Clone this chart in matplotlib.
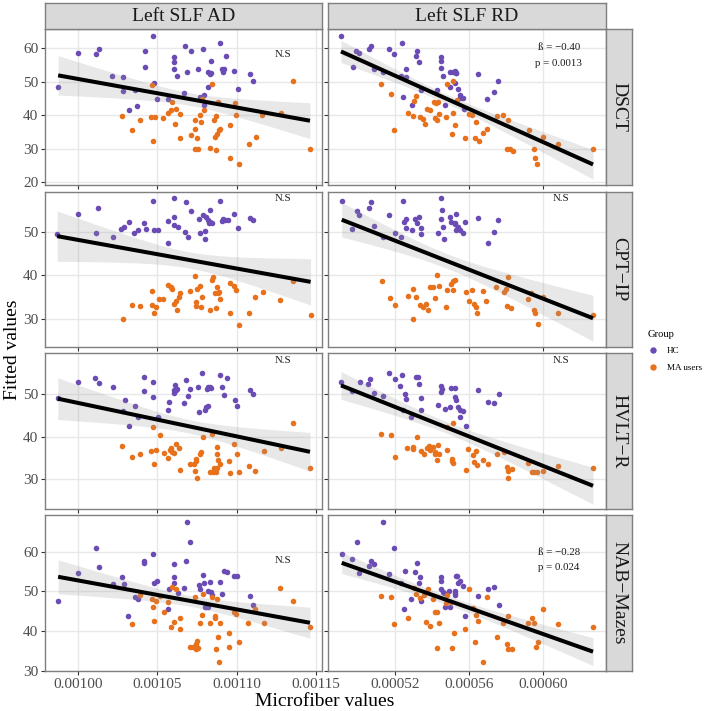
import numpy as np
import matplotlib
matplotlib.use('Agg')
import matplotlib.pyplot as plt
from matplotlib.ticker import FixedLocator, FormatStrFormatter
from matplotlib.lines import Line2D

plt.rcParams['font.family'] = ['Liberation Serif', 'DejaVu Serif']

# ---------------- data ----------------
COLUMNS = ['Left SLF AD', 'Left SLF RD']
ROWS = ['DSCT', 'CPT\u2212IP', 'HVLT\u2212R', 'NAB\u2212Mazes']
GROUPS = ['HC', 'MA users']
X_SCALE = 1e-5  # microfiber values below are given in units of 1e-5

# DSCT vs Left SLF AD
DSCT_AD_HC_X = [98.73, 100.0, 101.10, 101.31, 102.16, 102.85, 102.81, 103.57, 103.21, 103.74, 104.20, 104.20, 104.71, 104.80, 104.97, 105.66, 106.06, 106.06, 106.06, 106.23, 106.76, 106.89, 107.12, 106.68, 107.56, 107.86, 107.71, 107.97, 107.97, 108.18, 108.18, 108.30, 108.39, 108.39, 108.94, 109.11, 109.15, 109.19, 109.36, 109.87, 110.08, 110.84, 111.05]
DSCT_AD_HC_Y = [48.3, 58.5, 58.3, 59.8, 51.8, 51.3, 47.3, 47.5, 41.5, 42.8, 59.3, 54.5, 63.7, 49.5, 44.7, 44.7, 57.5, 55.8, 53.9, 51.6, 60.8, 52.9, 59.3, 46.7, 53.9, 59.8, 45.5, 46.0, 43.0, 48.5, 53.0, 52.3, 52.5, 56.3, 61.7, 53.7, 53.0, 53.9, 57.6, 53.3, 47.9, 52.3, 50.2]
DSCT_AD_MA_X = [102.79, 103.40, 103.91, 104.58, 104.69, 104.75, 104.88, 105.35, 105.70, 105.85, 105.94, 106.13, 106.17, 106.40, 106.42, 107.10, 107.39, 107.39, 107.50, 107.39, 107.54, 107.67, 107.75, 107.82, 107.97, 108.45, 108.56, 108.35, 108.68, 108.66, 108.77, 108.87, 108.98, 108.81, 108.73, 109.57, 109.57, 109.89, 109.97, 110.14, 110.78, 111.20, 111.62, 112.78, 113.59, 114.64]
DSCT_AD_MA_Y = [39.9, 35.6, 38.7, 39.5, 49.0, 32.4, 39.6, 39.3, 40.8, 41.5, 44.0, 37.3, 41.9, 40.5, 33.2, 34.2, 36.0, 38.5, 33.3, 29.8, 29.8, 40.2, 38.1, 44.9, 41.7, 49.3, 38.5, 30.1, 29.5, 33.5, 34.5, 35.5, 36.0, 44.0, 39.7, 37.2, 27.3, 43.7, 40.0, 25.4, 31.4, 33.4, 40.0, 40.7, 50.3, 29.8]

# DSCT vs Left SLF RD
DSCT_RD_HC_X = [49.10, 49.73, 49.89, 50.09, 50.63, 50.70, 50.88, 51.39, 51.68, 51.98, 52.38, 52.32, 52.47, 52.63, 52.63, 52.92, 53.14, 53.21, 53.32, 53.42, 54.27, 54.49, 54.49, 54.49, 54.58, 54.72, 54.99, 55.12, 55.26, 55.30, 55.33, 54.99, 55.26, 55.41, 55.51, 55.51, 55.66, 55.75, 56.50, 56.99, 57.33, 57.59]
DSCT_RD_HC_Y = [63.7, 54.5, 59.3, 58.5, 59.8, 60.8, 53.8, 53.0, 59.8, 58.3, 61.7, 51.8, 45.5, 53.8, 51.3, 42.9, 57.7, 59.3, 55.8, 47.5, 47.5, 57.5, 56.3, 54.0, 51.6, 43.0, 53.0, 53.0, 53.3, 52.5, 52.7, 48.5, 49.7, 47.8, 46.0, 45.0, 45.0, 41.8, 52.3, 44.7, 46.8, 50.2]
DSCT_RD_MA_X = [51.28, 51.82, 51.98, 52.70, 52.97, 53.03, 53.17, 53.37, 53.51, 53.66, 53.75, 53.89, 54.13, 54.23, 54.34, 54.16, 54.29, 54.40, 54.79, 54.81, 55.08, 55.14, 55.17, 55.24, 55.78, 56.00, 56.18, 56.31, 56.36, 56.56, 56.79, 56.99, 57.51, 57.84, 58.13, 58.05, 58.20, 58.36, 59.23, 59.50, 59.57, 59.68, 59.98, 60.79, 62.70, 55.35]
DSCT_RD_MA_Y = [49.3, 46.3, 35.6, 40.6, 39.8, 44.1, 45.8, 39.5, 38.9, 37.4, 41.8, 41.7, 43.8, 43.7, 43.8, 39.3, 38.5, 40.3, 39.6, 49.3, 34.3, 40.8, 50.2, 37.1, 33.2, 40.5, 40.0, 33.3, 38.1, 32.3, 34.6, 35.9, 39.8, 40.2, 38.6, 29.8, 29.8, 29.4, 35.6, 30.0, 27.2, 25.4, 33.4, 31.4, 29.8, 44.4]

# CPT-IP vs Left SLF AD
CPT_AD_HC_X = [98.67, 100.0, 101.12, 101.27, 102.20, 102.70, 102.89, 103.21, 103.55, 103.76, 104.18, 104.25, 104.73, 104.80, 105.01, 105.68, 105.68, 106.02, 106.06, 106.06, 106.30, 106.72, 106.80, 106.91, 107.12, 107.63, 107.71, 107.88, 107.99, 108.01, 108.09, 108.18, 108.26, 108.30, 108.35, 108.43, 108.96, 109.09, 109.15, 109.28, 109.44, 109.87, 110.10, 110.88, 111.03]
CPT_AD_HC_Y = [49.7, 54.1, 49.8, 55.6, 48.9, 50.8, 51.1, 52.4, 49.8, 50.5, 52.2, 50.8, 57.3, 50.5, 50.5, 52.5, 47.4, 53.6, 57.9, 51.6, 51.1, 50.0, 56.9, 48.9, 54.9, 53.0, 49.8, 53.9, 48.5, 50.3, 53.6, 52.9, 52.1, 55.2, 52.4, 52.2, 57.3, 52.5, 53.1, 52.9, 52.9, 54.2, 51.0, 53.2, 52.9]
CPT_AD_MA_X = [102.83, 103.38, 103.91, 104.63, 104.67, 104.78, 104.90, 105.11, 105.35, 105.66, 105.83, 105.94, 106.06, 106.21, 106.36, 106.40, 107.04, 107.39, 107.42, 107.46, 107.50, 107.71, 107.78, 107.84, 108.35, 108.43, 108.51, 108.73, 108.77, 108.83, 108.92, 108.98, 108.66, 109.57, 109.59, 109.82, 109.97, 110.14, 110.80, 111.18, 111.66, 112.74, 113.59, 114.68, 106.19]
CPT_AD_MA_Y = [29.9, 33.2, 32.9, 33.2, 36.5, 31.2, 32.6, 34.6, 34.6, 37.8, 37.4, 36.9, 33.5, 32.0, 35.1, 36.0, 36.5, 39.9, 33.8, 32.9, 36.8, 37.6, 32.7, 34.9, 32.1, 39.0, 39.7, 32.4, 37.3, 36.0, 36.2, 34.5, 35.9, 31.4, 38.2, 37.6, 36.6, 28.6, 31.4, 35.0, 36.2, 34.3, 38.8, 30.8, 34.2]

# CPT-IP vs Left SLF RD
CPT_RD_HC_X = [49.14, 49.71, 49.95, 50.07, 50.63, 50.72, 50.90, 51.39, 51.71, 52.04, 52.32, 52.45, 52.50, 52.59, 52.59, 52.92, 53.08, 53.21, 53.32, 53.42, 53.42, 54.31, 54.49, 54.54, 54.49, 54.63, 54.68, 54.99, 55.01, 55.26, 55.30, 55.35, 55.33, 55.42, 55.53, 55.68, 55.78, 56.52, 57.01, 57.35, 57.57, 55.26]
CPT_RD_HC_Y = [57.3, 50.8, 54.9, 54.0, 55.6, 56.9, 51.5, 48.8, 53.9, 49.8, 49.0, 57.3, 52.4, 53.1, 51.0, 50.5, 53.0, 52.2, 53.6, 50.9, 49.6, 49.8, 57.9, 55.2, 53.0, 51.1, 48.5, 53.6, 52.3, 52.1, 54.2, 50.8, 50.4, 51.3, 50.4, 49.8, 52.3, 53.2, 47.4, 50.0, 52.9, 51.9]
CPT_RD_MA_X = [51.30, 51.77, 52.02, 52.70, 52.99, 53.17, 52.99, 53.37, 53.55, 53.69, 53.78, 53.89, 54.07, 54.20, 54.27, 54.40, 54.77, 54.81, 55.06, 55.14, 55.15, 55.23, 55.84, 56.02, 56.18, 56.27, 56.36, 56.45, 56.77, 56.95, 57.46, 57.89, 58.02, 58.09, 58.07, 58.29, 59.21, 59.37, 59.53, 59.55, 59.73, 59.98, 60.79, 62.70]
CPT_RD_MA_Y = [38.8, 34.7, 33.2, 35.2, 36.9, 34.9, 29.9, 33.2, 32.8, 33.4, 32.1, 37.3, 37.4, 34.7, 40.0, 37.6, 32.6, 36.6, 38.0, 36.6, 38.8, 39.0, 36.1, 34.2, 36.6, 33.4, 32.7, 31.2, 36.3, 34.0, 37.3, 36.2, 36.8, 39.7, 32.9, 32.4, 34.5, 35.9, 32.0, 31.4, 28.7, 35.1, 31.4, 30.9]

# HVLT-R vs Left SLF AD
HVLT_AD_HC_X = [98.71, 100.0, 101.08, 101.31, 102.22, 102.94, 102.83, 103.19, 103.59, 103.76, 104.16, 104.18, 104.71, 104.75, 105.01, 105.68, 105.73, 106.06, 106.11, 106.23, 106.17, 106.68, 106.80, 106.91, 107.08, 107.54, 107.65, 107.82, 108.01, 108.09, 108.18, 108.13, 108.22, 108.30, 108.39, 108.98, 109.11, 109.21, 109.40, 109.89, 110.06, 110.88, 111.05, 106.02]
HVLT_AD_HC_Y = [49.0, 52.8, 53.8, 52.7, 51.8, 48.7, 46.1, 42.6, 47.3, 44.6, 50.8, 54.0, 52.8, 49.4, 44.7, 46.2, 48.1, 50.4, 52.2, 51.2, 50.9, 48.0, 53.4, 49.5, 51.3, 51.7, 45.9, 54.9, 46.2, 46.9, 47.2, 51.3, 51.6, 51.8, 51.4, 54.5, 51.6, 49.8, 53.9, 48.6, 47.2, 51.1, 50.1, 51.0]
HVLT_AD_MA_X = [102.79, 103.42, 103.93, 104.58, 104.71, 104.80, 104.92, 105.16, 105.41, 105.66, 105.81, 105.87, 105.94, 106.08, 106.17, 106.36, 106.40, 107.04, 107.33, 107.37, 107.42, 107.46, 107.50, 107.67, 107.78, 107.86, 108.35, 108.47, 108.51, 108.60, 108.68, 108.77, 108.79, 108.85, 108.94, 108.77, 109.53, 109.61, 109.85, 110.01, 110.14, 110.80, 111.18, 111.71, 112.78, 113.56, 114.64]
HVLT_AD_MA_Y = [37.8, 35.3, 36.0, 36.6, 42.4, 33.5, 36.8, 40.3, 36.2, 34.9, 36.9, 37.3, 36.5, 36.2, 38.4, 37.3, 32.1, 33.7, 33.6, 32.0, 34.4, 34.7, 30.2, 35.9, 36.5, 39.9, 31.6, 40.6, 31.8, 32.7, 31.7, 37.5, 35.9, 34.5, 33.6, 32.6, 34.4, 31.4, 38.2, 35.9, 31.6, 33.0, 32.0, 36.6, 37.3, 43.2, 32.7]

# HVLT-R vs Left SLF RD
HVLT_RD_HC_X = [49.10, 49.68, 50.13, 50.58, 50.67, 50.88, 51.39, 51.69, 52.04, 52.38, 52.27, 52.56, 52.63, 52.47, 52.88, 53.14, 53.23, 53.30, 53.42, 53.41, 54.31, 54.49, 54.54, 54.50, 54.72, 54.99, 55.03, 55.26, 55.26, 55.30, 55.39, 55.50, 55.71, 55.50, 55.82, 56.47, 57.01, 57.35, 57.60]
HVLT_RD_HC_Y = [52.9, 50.8, 52.8, 52.5, 53.5, 50.4, 49.5, 54.9, 53.7, 54.5, 51.9, 50.0, 48.8, 46.2, 44.6, 54.0, 54.0, 52.3, 49.1, 46.2, 47.4, 51.9, 51.2, 50.5, 46.5, 47.1, 51.5, 51.5, 49.3, 48.7, 47.1, 46.2, 46.0, 44.6, 42.6, 51.1, 48.2, 48.0, 50.1]
HVLT_RD_MA_X = [51.28, 51.80, 52.04, 52.68, 52.99, 52.99, 53.19, 53.41, 53.60, 53.73, 53.86, 53.93, 54.09, 54.20, 54.32, 54.18, 54.29, 54.38, 54.81, 54.81, 55.15, 55.08, 55.12, 55.10, 55.84, 55.98, 56.22, 56.36, 56.29, 56.43, 56.76, 57.03, 57.51, 57.89, 58.07, 58.11, 58.09, 58.32, 59.21, 59.39, 59.51, 59.69, 59.98, 60.79, 62.70]
HVLT_RD_MA_Y = [40.7, 40.3, 35.3, 37.3, 37.7, 37.1, 39.9, 36.7, 36.0, 37.3, 37.8, 36.9, 37.5, 36.3, 38.1, 35.9, 34.5, 35.9, 36.8, 42.2, 43.2, 34.8, 33.8, 34.4, 32.1, 37.2, 35.6, 36.7, 34.1, 33.4, 34.5, 33.5, 35.9, 36.5, 32.8, 32.0, 30.2, 32.5, 33.8, 31.6, 31.6, 31.6, 32.0, 33.1, 32.7]

# NAB-Mazes vs Left SLF AD
NAB_AD_HC_X = [98.73, 100.0, 101.12, 101.29, 102.18, 102.79, 102.89, 103.17, 103.59, 103.76, 104.16, 104.18, 104.73, 104.80, 104.97, 105.70, 105.75, 106.04, 106.06, 106.06, 106.30, 106.66, 106.82, 106.89, 107.08, 107.63, 107.67, 107.88, 107.97, 108.01, 108.09, 108.22, 108.18, 108.35, 108.39, 108.43, 108.98, 109.11, 109.19, 109.40, 109.87, 110.04, 110.84, 111.05]
NAB_AD_HC_Y = [47.7, 54.6, 61.0, 56.2, 51.9, 53.5, 51.9, 43.9, 48.5, 48.0, 57.7, 57.2, 59.4, 52.2, 52.5, 45.5, 50.5, 56.9, 53.5, 52.0, 49.5, 50.9, 57.7, 67.4, 62.3, 51.5, 50.6, 54.2, 52.2, 46.0, 46.0, 46.0, 50.2, 52.3, 49.9, 49.1, 52.4, 49.4, 55.1, 54.9, 53.9, 53.9, 48.9, 46.7]
NAB_AD_MA_X = [103.40, 103.91, 104.65, 104.71, 104.80, 104.90, 105.18, 105.41, 105.70, 105.85, 105.92, 106.06, 106.17, 106.40, 106.40, 107.04, 107.25, 107.37, 107.42, 107.46, 107.48, 107.54, 107.67, 107.80, 107.88, 108.35, 108.47, 108.62, 108.66, 108.73, 108.77, 108.81, 108.90, 108.94, 109.53, 109.55, 109.85, 109.99, 110.16, 110.75, 111.16, 111.71, 112.74, 113.56, 114.64]
NAB_AD_MA_Y = [41.7, 49.1, 48.0, 46.2, 42.6, 47.5, 48.9, 44.9, 47.4, 41.1, 51.0, 42.2, 50.5, 43.2, 40.5, 36.0, 36.0, 48.7, 36.7, 35.6, 37.5, 35.7, 42.0, 44.1, 49.4, 42.1, 48.7, 43.7, 43.2, 35.6, 48.1, 38.6, 32.2, 42.1, 39.6, 36.1, 44.9, 44.2, 37.4, 42.0, 45.7, 42.1, 50.8, 47.5, 41.1]

# NAB-Mazes vs Left SLF RD
NAB_RD_HC_X = [49.14, 49.71, 49.95, 50.09, 50.61, 50.72, 50.90, 51.39, 51.68, 51.96, 52.32, 52.52, 52.58, 52.88, 53.08, 53.21, 53.30, 53.37, 53.42, 54.49, 54.52, 54.49, 54.58, 54.65, 54.72, 54.95, 54.99, 55.23, 55.26, 55.24, 55.28, 55.35, 55.39, 55.53, 55.68, 55.80, 56.50, 57.01, 57.35, 57.62]
NAB_RD_HC_Y = [59.4, 58.1, 62.3, 54.6, 56.4, 57.7, 56.9, 67.4, 54.4, 61.0, 52.2, 45.6, 55.1, 48.0, 55.0, 57.2, 52.0, 53.7, 47.7, 53.5, 52.5, 50.5, 49.9, 49.5, 46.1, 50.2, 46.1, 50.2, 49.7, 49.1, 53.9, 53.9, 52.2, 52.5, 51.4, 43.9, 48.9, 50.6, 51.0, 46.7]
NAB_RD_MA_X = [51.28, 51.82, 51.98, 52.70, 53.06, 53.17, 53.37, 53.59, 53.69, 53.78, 53.89, 54.09, 54.16, 54.27, 54.29, 54.40, 54.77, 54.81, 55.06, 55.10, 55.21, 55.78, 56.00, 56.23, 56.31, 56.40, 56.47, 56.79, 56.99, 57.50, 57.86, 58.07, 58.11, 58.31, 58.13, 59.21, 59.41, 59.50, 59.60, 59.71, 59.98, 60.81, 62.70]
NAB_RD_MA_Y = [48.9, 48.7, 41.7, 43.2, 50.9, 49.4, 48.3, 49.1, 42.3, 50.6, 41.3, 48.2, 44.9, 44.9, 35.9, 42.0, 47.0, 49.1, 47.4, 35.9, 39.5, 40.5, 50.7, 45.9, 37.4, 44.0, 42.6, 32.3, 48.5, 38.6, 42.1, 36.7, 35.6, 35.6, 43.7, 42.1, 43.2, 42.1, 36.1, 37.4, 45.5, 41.9, 41.1]

# annotation texts per panel (row, col)
ANNOT = {
    (0, 0): 'N.S', (0, 1): '\u00df = \u22120.40\np = 0.0013',
    (1, 0): 'N.S', (1, 1): 'N.S',
    (2, 0): 'N.S', (2, 1): 'N.S',
    (3, 0): 'N.S', (3, 1): '\u00df = \u22120.28\np = 0.024',
}

X_TICKS = [[0.00100, 0.00105, 0.00110, 0.00115], [0.00052, 0.00056, 0.00060]]
Y_TICKS = [[20, 30, 40, 50, 60], [30, 40, 50], [30, 40, 50], [30, 40, 50, 60]]

PANELS = {
    (0, 0): (DSCT_AD_HC_X, DSCT_AD_HC_Y, DSCT_AD_MA_X, DSCT_AD_MA_Y),
    (0, 1): (DSCT_RD_HC_X, DSCT_RD_HC_Y, DSCT_RD_MA_X, DSCT_RD_MA_Y),
    (1, 0): (CPT_AD_HC_X, CPT_AD_HC_Y, CPT_AD_MA_X, CPT_AD_MA_Y),
    (1, 1): (CPT_RD_HC_X, CPT_RD_HC_Y, CPT_RD_MA_X, CPT_RD_MA_Y),
    (2, 0): (HVLT_AD_HC_X, HVLT_AD_HC_Y, HVLT_AD_MA_X, HVLT_AD_MA_Y),
    (2, 1): (HVLT_RD_HC_X, HVLT_RD_HC_Y, HVLT_RD_MA_X, HVLT_RD_MA_Y),
    (3, 0): (NAB_AD_HC_X, NAB_AD_HC_Y, NAB_AD_MA_X, NAB_AD_MA_Y),
    (3, 1): (NAB_RD_HC_X, NAB_RD_HC_Y, NAB_RD_MA_X, NAB_RD_MA_Y),
}

# ---------------- styling / layout ----------------
C_HC = '#6a4cb4'
C_MA = '#e8711c'
BORDER = '#7f7f7f'
GRID = '#e8e8e8'
STRIP = '#d9d9d9'
T975 = 1.987

W, H = 709, 711
COL_X = [(45, 322), (328, 606)]
ROW_Y = [(29, 185), (192, 347), (353, 509), (515, 671)]
XLIM = [(0.000979, 0.001154), (0.000484, 0.000634)]
YLIM = [(19.1, 65.8), (23.45, 59.3), (23.0, 59.7), (30.0, 69.2)]
ANN_POS = {
    (0, 0): (0.86, 0.835), (0, 1): (0.83, 0.83),
    (1, 0): (0.86, 0.955), (1, 1): (0.838, 0.955),
    (2, 0): (0.86, 0.95), (2, 1): (0.838, 0.95),
    (3, 0): (0.86, 0.71), (3, 1): (0.83, 0.712),
}


def rect(x0, x1, y0, y1):
    return [x0 / W, 1 - y1 / H, (x1 - x0) / W, (y1 - y0) / H]


fig = plt.figure(figsize=(W / 100, H / 100), dpi=100)
fig.patch.set_facecolor('white')


def style_box(ax):
    for s in ax.spines.values():
        s.set_color(BORDER)
        s.set_linewidth(1.0)


def fit_band(x, y, xg):
    x = np.asarray(x)
    y = np.asarray(y)
    n = len(x)
    b1, b0 = np.polyfit(x, y, 1)
    yhat = b0 + b1 * x
    s = np.sqrt(np.sum((y - yhat) ** 2) / (n - 2))
    xm = x.mean()
    sxx = np.sum((x - xm) ** 2)
    yg = b0 + b1 * xg
    se = s * np.sqrt(1.0 / n + (xg - xm) ** 2 / sxx)
    return yg, yg - T975 * se, yg + T975 * se


for r in range(4):
    for c in range(2):
        x0, x1 = COL_X[c]
        y0, y1 = ROW_Y[r]
        ax = fig.add_axes(rect(x0, x1, y0, y1))
        hx, hy, mx, my = PANELS[(r, c)]
        hx = np.array(hx) * X_SCALE
        mx = np.array(mx) * X_SCALE
        hy = np.array(hy)
        my = np.array(my)

        ax.set_xlim(*XLIM[c])
        ax.set_ylim(*YLIM[r])
        ax.xaxis.set_major_locator(FixedLocator(X_TICKS[c]))
        ax.yaxis.set_major_locator(FixedLocator(Y_TICKS[r]))
        ax.grid(which='major', color=GRID, linewidth=1.0, zorder=0)
        ax.set_axisbelow(True)
        ax.tick_params(which='major', length=3.2, width=0.8, color='#333333',
                       labelsize=11, labelcolor='#4d4d4d', pad=1.5)
        ax.xaxis.set_major_formatter(FormatStrFormatter('%.5f'))
        if r < 3:
            ax.tick_params(axis='x', labelbottom=False)
        if c == 1:
            ax.tick_params(axis='y', labelleft=False)
        style_box(ax)

        ax.scatter(hx, hy, s=16, color=C_HC, linewidths=0, zorder=2)
        ax.scatter(mx, my, s=16, color=C_MA, linewidths=0, zorder=2)

        ax_all = np.concatenate([hx, mx])
        ay_all = np.concatenate([hy, my])
        xg = np.linspace(ax_all.min(), ax_all.max(), 80)
        yg, lo, hi = fit_band(ax_all, ay_all, xg)
        ax.fill_between(xg, lo, hi, color='#999999', alpha=0.22, linewidth=0, zorder=3)
        ax.plot(xg, yg, color='black', linewidth=2.9, zorder=4, solid_capstyle='butt')

        fx, fy = ANN_POS[(r, c)]
        ax.text(fx, fy, ANNOT[(r, c)], transform=ax.transAxes, ha='center', va='center',
                fontsize=7.8, color='#1a1a1a', linespacing=1.9, zorder=5)

# column strips
for c in range(2):
    x0, x1 = COL_X[c]
    sax = fig.add_axes(rect(x0, x1, 3, 29))
    sax.set_facecolor(STRIP)
    sax.set_xticks([])
    sax.set_yticks([])
    style_box(sax)
    sax.text(0.5, 0.47, COLUMNS[c], transform=sax.transAxes, ha='center', va='center',
             fontsize=14, color='#1a1a1a')

# row strips
for r in range(4):
    y0, y1 = ROW_Y[r]
    sax = fig.add_axes(rect(606, 632, y0, y1))
    sax.set_facecolor(STRIP)
    sax.set_xticks([])
    sax.set_yticks([])
    style_box(sax)
    sax.text(0.5, 0.5, ROWS[r], transform=sax.transAxes, ha='center', va='center',
             rotation=270, fontsize=14, color='#1a1a1a')

# axis titles
fig.text(325 / W, 1 - 701 / H, 'Microfiber values', ha='center', va='center', fontsize=14)
fig.text(13 / W, 1 - 350 / H, 'Fitted values', ha='center', va='center', rotation=90, fontsize=14)

# legend
handles = [Line2D([], [], marker='o', linestyle='none', markersize=4.6, color=C_HC, markeredgewidth=0),
           Line2D([], [], marker='o', linestyle='none', markersize=4.6, color=C_MA, markeredgewidth=0)]
leg = fig.legend(handles, GROUPS, title='Group', loc='upper left',
                 bbox_to_anchor=(644 / W, 1 - 326 / H), frameon=False,
                 fontsize=6.6, title_fontsize=7.6, handletextpad=0.9, labelspacing=0.9,
                 handlelength=1.2, alignment='left', borderaxespad=0)

fig.savefig('out.png', dpi=100, facecolor='white')
